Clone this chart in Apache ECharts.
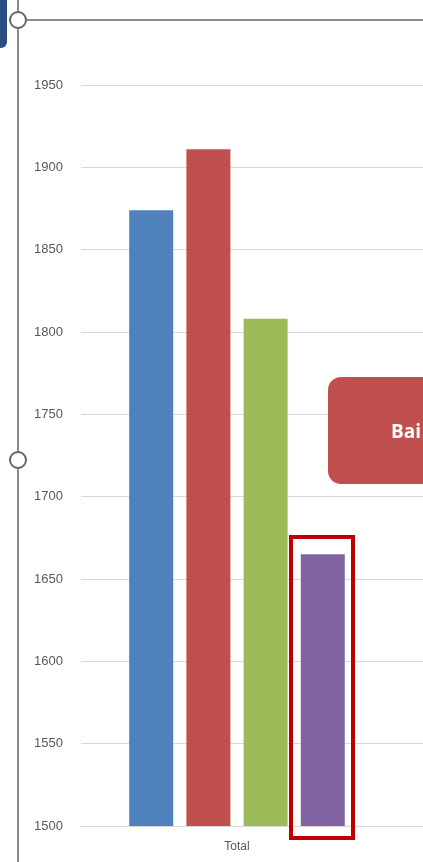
<!DOCTYPE html>
<html>
<head>
<meta charset="utf-8">
<script src="https://cdn.jsdelivr.net/npm/echarts@6/dist/echarts.min.js"></script>
<style>
html,body{margin:0;padding:0;background:#fff;}
#c{width:423px;height:862px;}
</style>
</head>
<body>
<div id="c"></div>
<script>
var categories = ['Total', ''];
var seriesNames = ['Series 1', 'Series 2', 'Series 3', 'Series 4'];
var seriesValues = [1874, 1911, 1808, 1665];
var seriesColors = ['#4F81BD', '#C0504D', '#9BBB59', '#8064A2'];
var yMin = 1500, yMax = 1950, yStep = 50;

var chart = echarts.init(document.getElementById('c'), null, {renderer: 'canvas'});
var series = seriesNames.map(function (n, i) {
  return {
    name: n,
    type: 'bar',
    data: [seriesValues[i]],
    barWidth: 44,
    barGap: '30%',
    itemStyle: {color: seriesColors[i]},
    z: 2
  };
});

chart.setOption({
  animation: false,
  backgroundColor: '#ffffff',
  textStyle: {fontFamily: 'Liberation Sans'},
  grid: {left: 81, top: 85, width: 624, bottom: 36, containLabel: false, outerBoundsMode: 'none'},
  xAxis: {
    type: 'category',
    data: categories,
    axisTick: {show: false},
    axisLine: {lineStyle: {color: '#D9D9D9', width: 1}},
    axisLabel: {color: '#595959', fontSize: 12, margin: 15}
  },
  yAxis: {
    type: 'value',
    min: yMin, max: yMax, interval: yStep,
    axisLine: {show: false},
    axisTick: {show: false},
    splitLine: {lineStyle: {color: '#D9D9D9', width: 1}},
    axisLabel: {color: '#595959', fontSize: 13, margin: 18, formatter: function (v) { return String(v); }}
  },
  series: series,
  graphic: [
    {type: 'rect', shape: {x: -10, y: -10, width: 17, height: 58, r: 6}, style: {fill: '#2B4C7E'}, z: 10},
    {type: 'line', shape: {x1: 18, y1: 20, x2: 423, y2: 20}, style: {stroke: '#8C8C8C', lineWidth: 2}, z: 10},
    {type: 'line', shape: {x1: 18, y1: 0, x2: 18, y2: 862}, style: {stroke: '#8C8C8C', lineWidth: 2}, z: 10},
    {type: 'circle', shape: {cx: 18, cy: 20, r: 8}, style: {fill: '#ffffff', stroke: '#666666', lineWidth: 2}, z: 11},
    {type: 'circle', shape: {cx: 18, cy: 460, r: 8}, style: {fill: '#ffffff', stroke: '#666666', lineWidth: 2}, z: 11},
    {type: 'rect', shape: {x: 291, y: 537, width: 62, height: 301}, style: {fill: 'none', stroke: '#C00000', lineWidth: 4}, z: 10},
    {type: 'rect', shape: {x: 328, y: 377, width: 130, height: 107, r: 13}, style: {fill: '#C0504D'}, z: 10},
    {type: 'text', x: 391, y: 433, style: {text: 'Bai', fill: '#ffffff', font: 'bold 19px "Open Sans"', verticalAlign: 'middle', align: 'left'}, z: 11}
  ]
});
</script>
</body>
</html>
